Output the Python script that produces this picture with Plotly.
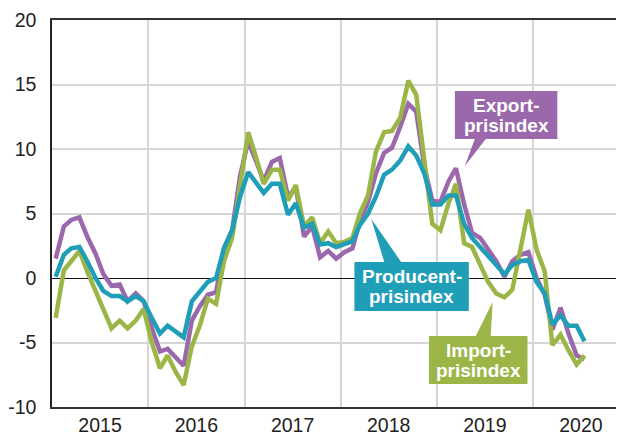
import plotly.graph_objects as go

# ---- data (monthly, Jan 2015 - Jul 2020), % change ----
start_year = 2015
n_months = 67
months = [f"{start_year + i // 12}-{i % 12 + 1:02d}-15" for i in range(n_months)]

export_idx = [1.5, 4.0, 4.5, 4.7, 3.2, 1.9, 0.3, -0.6, -0.5, -1.8, -1.2, -1.8,
              -3.9, -5.7, -5.5, -6.2, -6.8, -3.3, -2.2, -1.3, -1.1, 2.3, 3.7, 7.9,
              10.6, 9.0, 7.5, 9.0, 9.3, 6.3, 7.0, 3.2, 4.0, 1.6, 2.1, 1.5,
              2.0, 2.3, 4.4, 5.9, 8.1, 9.7, 10.1, 11.7, 13.5, 12.9, 8.6, 6.0,
              5.9, 7.5, 8.5, 5.7, 3.5, 3.1, 2.2, 1.3, 0.1, 1.3, 1.8, 2.0,
              0.0, -1.3, -4.0, -2.3, -4.3, -6.0, -6.3]

import_idx = [-3.1, 0.6, 1.3, 2.1, 0.5, -1.0, -2.5, -3.9, -3.3, -3.9, -3.3, -2.4,
              -5.0, -7.0, -6.0, -7.3, -8.3, -5.3, -3.7, -1.6, -2.0, 1.3, 3.1, 7.3,
              11.3, 9.3, 7.3, 8.4, 8.4, 6.0, 7.2, 4.0, 4.7, 2.7, 3.6, 2.7,
              2.8, 3.1, 5.0, 6.4, 9.8, 11.3, 11.4, 12.4, 15.3, 14.2, 8.9, 4.2,
              3.7, 5.8, 7.3, 2.7, 2.4, 1.1, -0.3, -1.2, -1.5, -0.9, 2.2, 5.3,
              2.2, 0.5, -5.2, -4.4, -5.6, -6.7, -6.0]

producer_idx = [0.1, 1.8, 2.3, 2.4, 1.3, 0.0, -1.0, -1.4, -1.4, -1.8, -1.4, -1.8,
                -3.1, -4.3, -3.7, -4.2, -4.6, -1.8, -1.1, -0.3, 0.0, 2.3, 3.7, 6.3,
                8.2, 7.3, 6.6, 7.3, 7.3, 4.9, 5.8, 3.9, 4.2, 2.6, 2.7, 2.4,
                2.6, 2.85, 4.1, 5.0, 6.3, 8.0, 8.4, 9.1, 10.2, 9.5, 8.1, 5.7,
                5.7, 6.4, 6.4, 4.2, 3.1, 2.4, 1.8, 1.1, 0.3, 1.0, 1.3, 1.4,
                -0.3, -1.2, -3.6, -2.9, -3.7, -3.7, -4.9]

y_tickvals = [-10, -5, 0, 5, 10, 15, 20]
y_ticktext = ["-10", "-5", "0", "5", "10", "15", "20"]

PURPLE = "#9A68AB"
GREEN = "#9BB647"
TEAL = "#1F9EB7"

fig = go.Figure()
fig.add_trace(go.Scatter(x=months, y=export_idx, mode="lines",
                         line=dict(color=PURPLE, width=4.5), name="Exportprisindex"))
fig.add_trace(go.Scatter(x=months, y=import_idx, mode="lines",
                         line=dict(color=GREEN, width=4.5), name="Importprisindex"))
fig.add_trace(go.Scatter(x=months, y=producer_idx, mode="lines",
                         line=dict(color=TEAL, width=4.5), name="Producentprisindex"))

# page has an 8px body margin; target pixel layout of the plot area
OFF = 8
L, R, T, B = 49, 624, 20, 407
FIG_W, FIG_H = 624 - OFF, 436 - OFF

def fx(p):
    return (p - L) / (R - L)
def fy(p):
    return (B - p) / (B - T)

shapes = []
annotations = []

def label(x0, x1, y0, y1, color, lines, ycenters, pointer):
    shapes.append(dict(type="rect", xref="paper", yref="paper",
                       x0=fx(x0), x1=fx(x1), y0=fy(y1), y1=fy(y0),
                       fillcolor=color, line=dict(width=0), layer="above"))
    (ax, ay), (bx, by), (cx, cy) = pointer
    path = f"M {fx(ax)},{fy(ay)} L {fx(bx)},{fy(by)} L {fx(cx)},{fy(cy)} Z"
    shapes.append(dict(type="path", xref="paper", yref="paper", path=path,
                       fillcolor=color, line=dict(width=0), layer="above"))
    xc = (x0 + x1) / 2
    for txt, yc in zip(lines, ycenters):
        annotations.append(dict(xref="paper", yref="paper", x=fx(xc), y=fy(yc),
                                text=f"<b>{txt}</b>", showarrow=False,
                                xanchor="center", yanchor="middle",
                                font=dict(color="white", size=19,
                                          family="Liberation Sans, Arial, sans-serif")))

label(454, 557, 91, 139, PURPLE, ["Export-", "prisindex"], [105, 125],
      ((464, 166), (474, 139), (485, 139)))
label(353, 468, 262, 311, TEAL, ["Producent-", "prisindex"], [276, 296],
      ((370, 219), (383, 262), (400, 262)))
label(428, 527, 336, 384, GREEN, ["Import-", "prisindex"], [350, 370],
      ((492, 302), (475, 336), (490, 336)))

fig.update_layout(
    width=FIG_W, height=FIG_H,
    margin=dict(l=L - OFF, r=(FIG_W + OFF) - R, t=T - OFF, b=(FIG_H + OFF) - B),
    plot_bgcolor="white", paper_bgcolor="white",
    showlegend=False,
    font=dict(family="Liberation Sans, Arial, sans-serif", size=19.5, color="#222"),
    shapes=shapes, annotations=annotations,
    xaxis=dict(type="date", range=["2015-01-01", "2020-12-12"],
               tick0="2015-01-01", dtick="M12", tickformat="%Y",
               ticklabelmode="period", ticks="", ticklabelstandoff=0,
               showgrid=True, gridcolor="#d6d6d6", gridwidth=1.5,
               showline=True, mirror=True, linecolor="#333", linewidth=1.5,
               zeroline=False),
    yaxis=dict(range=[-10, 20], tickmode="array", tickvals=y_tickvals,
               ticktext=y_ticktext, ticks="", ticklabelstandoff=10,
               showgrid=True, gridcolor="#d6d6d6", gridwidth=1.5,
               zeroline=True, zerolinecolor="#111", zerolinewidth=1.2,
               showline=True, linecolor="#222", linewidth=1.5),
)

fig.write_html("out.html")
